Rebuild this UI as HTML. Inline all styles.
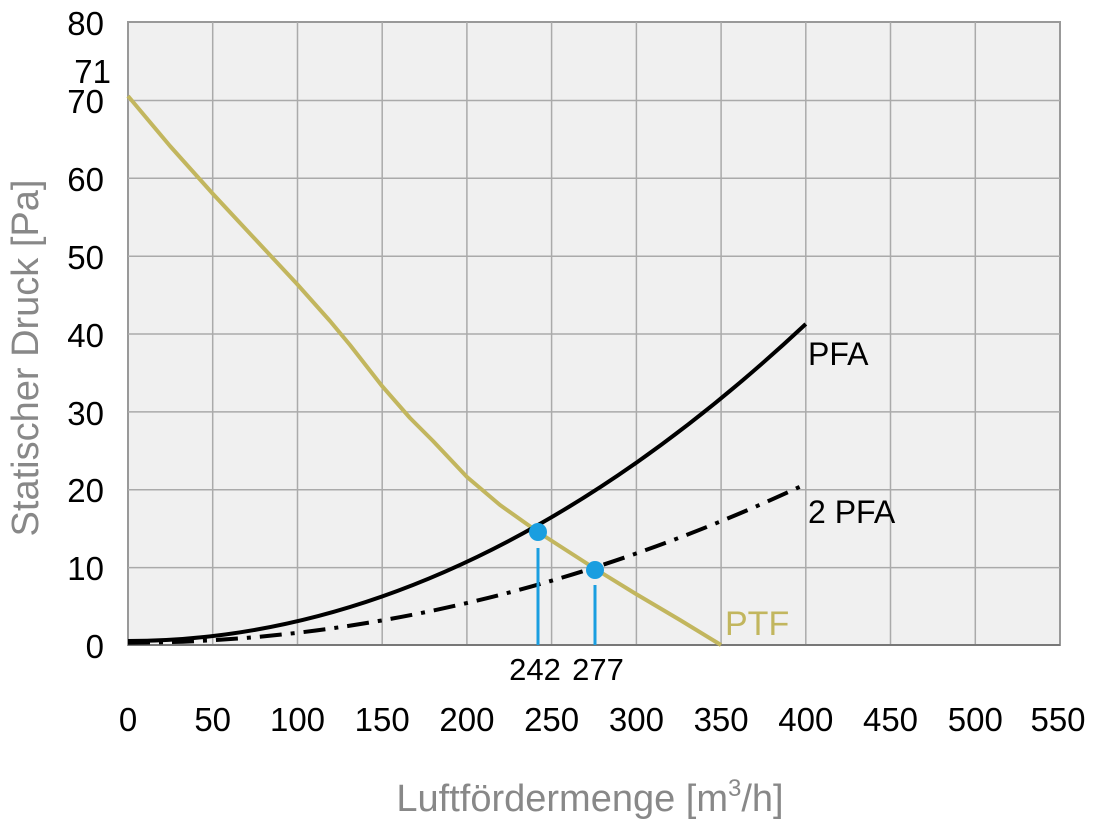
<!DOCTYPE html>
<html><head><meta charset="utf-8"><style>
html,body{margin:0;padding:0;background:#fff;}
svg{display:block;}
text{font-family:"Liberation Sans",sans-serif;}
</style></head><body>
<svg width="1093" height="824" viewBox="0 0 1093 824" xmlns="http://www.w3.org/2000/svg">
<rect x="128" y="22" width="932" height="623" fill="#f0f0f0" stroke="#999" stroke-width="2"/>
<g stroke="#aaa" stroke-width="1.5">
<line x1="212.7" y1="22" x2="212.7" y2="645"/><line x1="297.5" y1="22" x2="297.5" y2="645"/>
<line x1="382.2" y1="22" x2="382.2" y2="645"/><line x1="466.9" y1="22" x2="466.9" y2="645"/>
<line x1="551.6" y1="22" x2="551.6" y2="645"/><line x1="636.4" y1="22" x2="636.4" y2="645"/>
<line x1="721.1" y1="22" x2="721.1" y2="645"/><line x1="805.8" y1="22" x2="805.8" y2="645"/>
<line x1="890.5" y1="22" x2="890.5" y2="645"/><line x1="975.3" y1="22" x2="975.3" y2="645"/>
<line x1="128" y1="100.5" x2="1060" y2="100.5"/><line x1="128" y1="178.3" x2="1060" y2="178.3"/>
<line x1="128" y1="256.2" x2="1060" y2="256.2"/><line x1="128" y1="334" x2="1060" y2="334"/>
<line x1="128" y1="411.9" x2="1060" y2="411.9"/><line x1="128" y1="489.7" x2="1060" y2="489.7"/>
<line x1="128" y1="567.6" x2="1060" y2="567.6"/>
</g>
<line x1="128" y1="645" x2="1060" y2="645" stroke="#777" stroke-width="2"/>
<polyline fill="none" stroke="#c2b65e" stroke-width="4" stroke-linejoin="round" points="128,96 170,146 213,194 255,239 297,284 330,321 350,345 382,386 410,418 433,441 467,477 500,505 538,532 597,570 636,594 680,620 721,645"/>
<path fill="none" stroke="#000" stroke-width="4" d="M128,641 Q466.9,641 805.8,324"/>
<path fill="none" stroke="#000" stroke-width="4" stroke-dasharray="22,9,4,9" d="M128,642.7 Q466.9,642.7 805.8,484"/>
<g stroke="#1a9ee0" stroke-width="3"><line x1="538" y1="548" x2="538" y2="645"/><line x1="595" y1="585" x2="595" y2="645"/></g>
<circle cx="538" cy="532" r="9" fill="#1a9ee0"/><circle cx="595" cy="570" r="9" fill="#1a9ee0"/>
<g font-size="33" fill="#000" text-anchor="end">
<text x="104" y="35">80</text><text x="104" y="113">70</text><text x="104" y="191">60</text>
<text x="104" y="269">50</text><text x="104" y="347">40</text><text x="104" y="425">30</text>
<text x="104" y="502">20</text><text x="104" y="580">10</text><text x="104" y="658">0</text>
<text x="111" y="83">71</text>
</g>
<g font-size="33" fill="#000" text-anchor="middle">
<text x="128" y="731">0</text><text x="212.7" y="731">50</text><text x="297.5" y="731">100</text>
<text x="382.2" y="731">150</text><text x="466.9" y="731">200</text><text x="551.6" y="731">250</text>
<text x="636.4" y="731">300</text><text x="721.1" y="731">350</text><text x="805.8" y="731">400</text>
<text x="890.5" y="731">450</text><text x="975.3" y="731">500</text><text x="1058" y="731">550</text>
</g>
<g font-size="31" fill="#000" text-anchor="middle">
<text x="535" y="680">242</text><text x="598" y="680">277</text>
</g>
<text x="808" y="365" font-size="32" fill="#000">PFA</text>
<text x="808" y="523" font-size="32" fill="#000">2 PFA</text>
<text x="725" y="635" font-size="34" fill="#c2b65e">PTF</text>
<text x="590" y="811" font-size="38" fill="#888" text-anchor="middle">Luftfördermenge [m<tspan font-size="24" dy="-15">3</tspan><tspan dy="15">/h]</tspan></text>
<text transform="translate(38,358) rotate(-90)" font-size="38" fill="#888" text-anchor="middle">Statischer Druck [Pa]</text>
</svg>
</body></html>
